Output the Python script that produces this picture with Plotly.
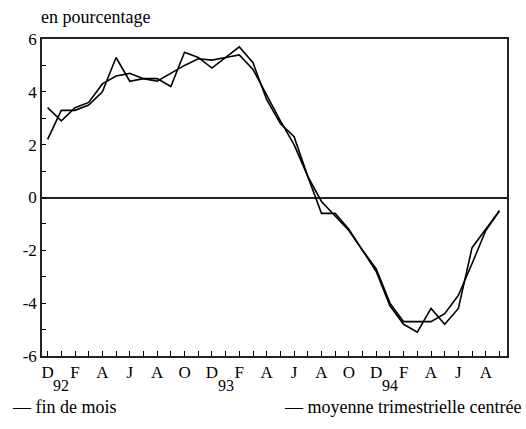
import plotly.graph_objects as go

# months from Dec 91 to Sep 94
months = ["D91", "J92", "F92", "M92", "A92", "M92", "J92", "J92", "A92", "S92", "O92", "N92",
          "D92", "J93", "F93", "M93", "A93", "M93", "J93", "J93", "A93", "S93", "O93", "N93",
          "D93", "J94", "F94", "M94", "A94", "M94", "J94", "J94", "A94", "S94"]

fin_de_mois = [2.2, 3.3, 3.3, 3.5, 4.0, 5.3, 4.4, 4.5, 4.5, 4.2, 5.5, 5.3,
               4.9, 5.3, 5.7, 5.1, 3.7, 2.8, 2.3, 0.8, -0.6, -0.6, -1.2, -2.0,
               -2.8, -4.1, -4.8, -5.1, -4.2, -4.8, -4.2, -1.9, -1.2, -0.5]

moyenne = [3.4, 2.9, 3.4, 3.6, 4.3, 4.6, 4.7, 4.5, 4.4, 4.7, 5.0, 5.25,
           5.2, 5.3, 5.4, 4.85, 3.85, 2.9, 2.0, 0.8, -0.15, -0.7, -1.25, -2.0,
           -2.7, -4.0, -4.7, -4.7, -4.7, -4.4, -3.7, -2.5, -1.25, -0.5]

month_letters = ["D", "F", "A", "J", "A", "O", "D", "F", "A", "J", "A", "O", "D", "F", "A", "J", "A"]
year_pos = [1, 13, 25]
year_labels = ["92", "93", "94"]

y_ticks = [-6, -4, -2, 0, 2, 4, 6]

x = list(range(len(months)))
SERIF = "Liberation Serif"

# letter every 2 months, blank in between
tick_text = []
for i in x:
    if i % 2 == 0 and i // 2 < len(month_letters):
        tick_text.append(month_letters[i // 2])
    else:
        tick_text.append("")

fig = go.Figure()
fig.add_trace(go.Scatter(x=x, y=fin_de_mois, mode="lines", name="fin de mois",
                         line=dict(color="black", width=1.6)))
fig.add_trace(go.Scatter(x=x, y=moyenne, mode="lines", name="moyenne trimestrielle centrée",
                         line=dict(color="black", width=1.6)))

fig.update_xaxes(
    range=[-0.41, 33.55], automargin=False,
    tickvals=x, ticktext=tick_text,
    ticks="inside", ticklen=5, tickcolor="black", tickwidth=1,
    showline=True, linecolor="#222", linewidth=1.5, mirror=True,
    showgrid=False, zeroline=False,
    tickfont=dict(size=17, family=SERIF),
)
fig.update_yaxes(
    range=[-6, 6], automargin=False,
    tickvals=y_ticks, ticktext=[str(v) for v in y_ticks],
    ticks="inside", ticklen=4, tickcolor="black", tickwidth=1,
    minor=dict(dtick=1, ticks="inside", ticklen=4, tickcolor="black"),
    showline=True, linecolor="#222", linewidth=1.5, mirror=True,
    showgrid=False, zeroline=True, zerolinecolor="#222", zerolinewidth=1.5,
    tickfont=dict(size=17, family=SERIF),
)

# year labels under January
for pos, lab in zip(year_pos, year_labels):
    fig.add_annotation(text=lab, x=pos, xref="x", yref="paper", y=0,
                       yanchor="middle", yshift=-29, showarrow=False,
                       font=dict(size=16, family=SERIF))

fig.add_annotation(text="en pourcentage", xref="paper", yref="paper", x=0, y=1,
                   xanchor="left", yanchor="middle", xshift=-3, yshift=22, showarrow=False,
                   font=dict(size=18, family=SERIF))
fig.add_annotation(text="— fin de mois", xref="paper", yref="paper", x=0, y=0,
                   xanchor="left", yanchor="middle", xshift=-32, yshift=-51, showarrow=False,
                   font=dict(size=18, family=SERIF))
fig.add_annotation(text="— moyenne trimestrielle centrée", xref="paper", yref="paper", x=1, y=0,
                   xanchor="right", yanchor="middle", xshift=16, yshift=-51, showarrow=False,
                   font=dict(size=18, family=SERIF))

fig.update_layout(
    width=526, height=429,
    margin=dict(l=42, r=19, t=39, b=73),
    paper_bgcolor="white", plot_bgcolor="white",
    font=dict(family=SERIF, color="black", size=17),
    showlegend=False,
)

fig.write_html("out.html", config={"displayModeBar": False},
               post_script="document.body.style.margin='0';")
